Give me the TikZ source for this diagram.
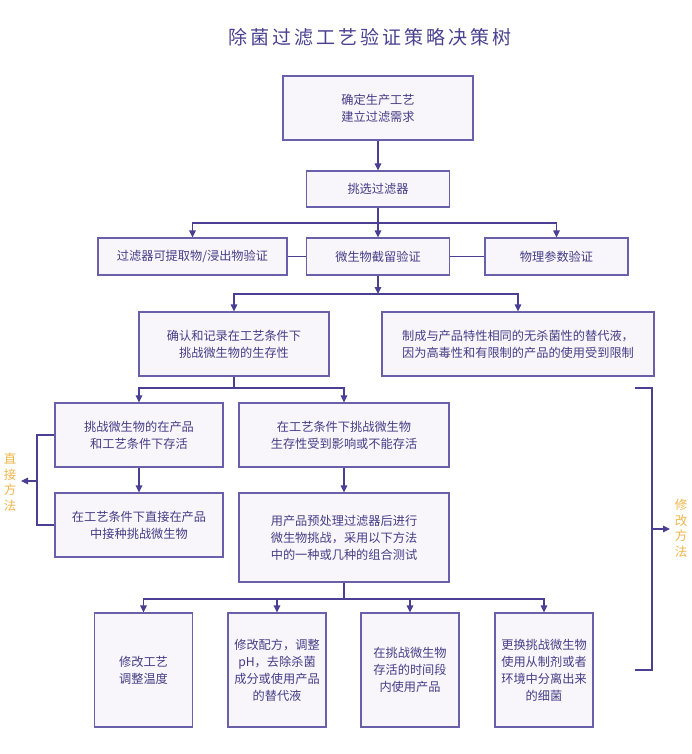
\documentclass[tikz,border=0pt]{standalone}
\usepackage{fontspec}
\setmainfont{Noto Sans CJK SC}
\newfontfamily\cjk{Noto Sans CJK SC}
\newfontfamily\titlefont[LetterSpace=16]{Noto Sans CJK SC}
\usetikzlibrary{arrows.meta}
\definecolor{lineC}{HTML}{4A3F92}
\definecolor{boxC}{HTML}{6A5FAA}
\definecolor{fillC}{HTML}{F8F6FA}
\definecolor{textC}{HTML}{463D86}
\definecolor{goldC}{HTML}{F0B64A}
\definecolor{titleC}{HTML}{4B4190}
\tikzset{
  box/.style={draw=boxC, line width=1.1pt, fill=fillC, inner sep=0pt, align=center,
    text=textC, font=\fontsize{12.2}{17}\selectfont\cjk},
  conn/.style={draw=lineC, line width=1.1pt},
  arr/.style={conn, -{Triangle[length=7pt,width=6.5pt]}},
  side/.style={text=goldC, font=\fontsize{12.5}{15.5}\selectfont\cjk, align=center, inner sep=0pt},
}
\begin{document}
\begin{tikzpicture}[x=1pt,y=-1pt]
\useasboundingbox[fill=white] (0,0) rectangle (692,754);
\node[text=titleC, font=\fontsize{19}{22}\selectfont\titlefont] (title) at (370,37) {除菌过滤工艺验证策略决策树};

\node[box, minimum width=190pt, minimum height=64pt] (b1) at (378,108) {确定生产工艺\\建立过滤需求};
\node[box, minimum width=143pt, minimum height=36pt] (b2) at (378,189) {挑选过滤器};
\node[box, minimum width=189pt, minimum height=37pt] (b3) at (192.5,256.5) {过滤器可提取物/浸出物验证};
\node[box, minimum width=143pt, minimum height=37pt] (b4) at (378,256.5) {微生物截留验证};
\node[box, minimum width=143pt, minimum height=37pt] (b5) at (556.5,256.5) {物理参数验证};
\node[box, minimum width=190pt, minimum height=64pt] (b6) at (234,344) {确认和记录在工艺条件下\\挑战微生物的生存性};
\node[box, minimum width=272pt, minimum height=64pt] (b7) at (518,344) {制成与产品特性相同的无杀菌性的替代液，\\因为高毒性和有限制的产品的使用受到限制};
\node[box, minimum width=168pt, minimum height=64pt] (b8) at (139,435) {挑战微生物的在产品\\和工艺条件下存活};
\node[box, minimum width=210pt, minimum height=64pt] (b9) at (344,435) {在工艺条件下挑战微生物\\生存性受到影响或不能存活};
\node[box, minimum width=168pt, minimum height=64pt] (b10) at (139,525) {在工艺条件下直接在产品\\中接种挑战微生物};
\node[box, minimum width=210pt, minimum height=89pt] (b11) at (344,537.5) {用产品预处理过滤器后进行\\微生物挑战，采用以下方法\\中的一种或几种的组合测试};
\node[box, minimum width=98pt, minimum height=114pt] (c1) at (143.5,670) {修改工艺\\调整温度};
\node[box, minimum width=98pt, minimum height=114pt] (c2) at (277,670) {修改配方，调整\\pH，去除杀菌\\成分或使用产品\\的替代液};
\node[box, minimum width=98pt, minimum height=114pt] (c3) at (410,670) {在挑战微生物\\存活的时间段\\内使用产品};
\node[box, minimum width=98pt, minimum height=114pt] (c4) at (544,670) {更换挑战微生物\\使用从制剂或者\\环境中分离出来\\的细菌};

\node[side] (lblL) at (10,482) {直\\接\\方\\法};
\node[side] (lblR) at (681,528) {修\\改\\方\\法};

% b1 -> b2
\draw[arr] (b1.south) -- (b2.north);
% b2 -> b3,b4,b5
\coordinate (j1) at (378,223);
\draw[conn] (b2.south) -- (j1);
\draw[arr] (j1) -| (b3.north);
\draw[arr] (j1) -| (b5.north);
\draw[arr] (j1) -- (b4.north);
\draw[conn] (b3.east) -- (b4.west);
\draw[conn] (b4.east) -- (b5.west);
% b4 -> b6, b7
\coordinate (j2) at (378,294);
\draw[arr] (b4.south) -- (j2);
\draw[arr] (j2) -| (b6.north);
\draw[arr] (j2) -| (b7.north);
% b6 -> b8, b9
\coordinate (j3) at (234,388);
\draw[conn] (b6.south) -- (j3);
\draw[arr] (j3) -| (b8.north);
\draw[arr] (j3) -| (b9.north);
\draw[arr] (b8.south) -- (b10.north);
\draw[arr] (b9.south) -- (b11.north);
% left bracket
\coordinate (lt) at (37,435);
\coordinate (lb) at (37,525);
\coordinate (lm) at (37,481);
\coordinate (la) at (21,481);
\draw[conn] (b8.west) -- (lt) -- (lb) -- (b10.west);
\draw[arr] (lm) -- (la);
% right bracket
\coordinate (r0) at (635,388);
\coordinate (r1) at (652,388);
\coordinate (r2) at (652,670);
\coordinate (r3) at (635,670);
\coordinate (rm) at (652,529);
\coordinate (ra) at (670,529);
\draw[conn] (r0) -- (r1) -- (r2) -- (r3);
\draw[arr] (rm) -- (ra);
% b11 -> bottom
\coordinate (j4) at (344,599);
\draw[conn] (b11.south) -- (j4);
\draw[arr] (j4) -| (c1.north);
\draw[arr] (j4) -| (c2.north);
\draw[arr] (j4) -| (c3.north);
\draw[arr] (j4) -| (c4.north);
\end{tikzpicture}
\end{document}
